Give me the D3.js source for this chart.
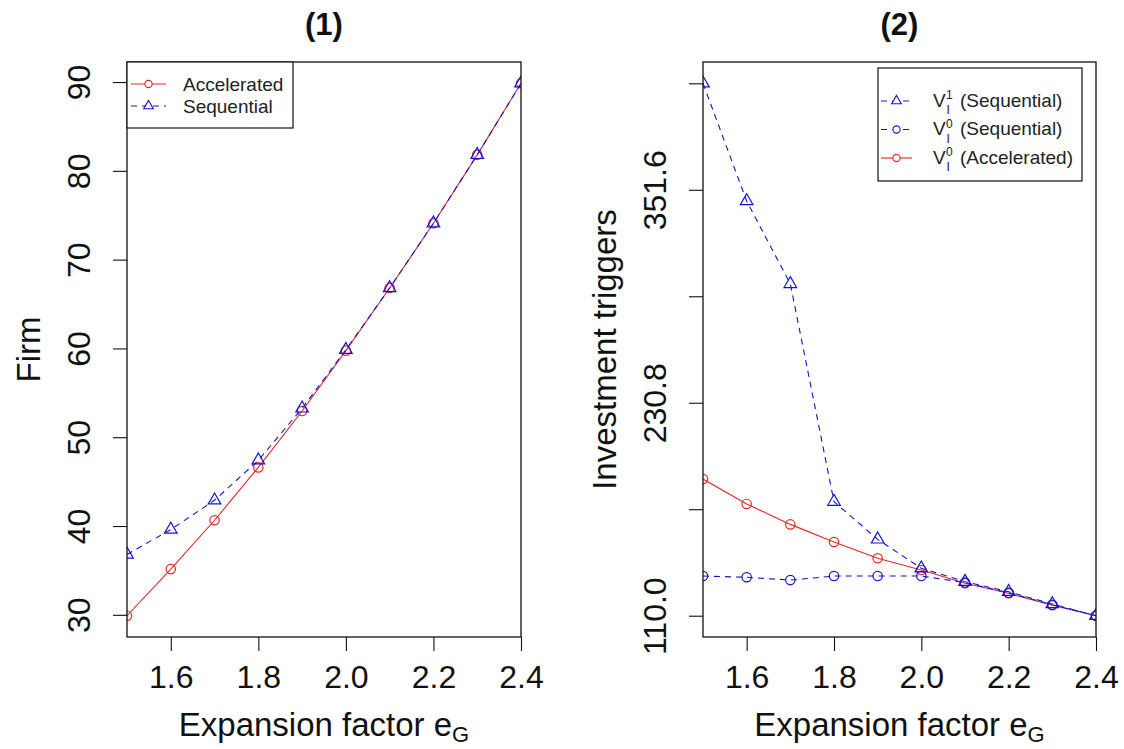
<!DOCTYPE html>
<html>
<head>
<meta charset="utf-8">
<script src="https://cdn.jsdelivr.net/npm/d3@7"></script>
<style>
  html, body { margin: 0; padding: 0; background: #fff; }
  svg { display: block; font-family: "Liberation Sans", Arial, sans-serif; }
</style>
</head>
<body>
<svg id="chart" width="1124" height="749"></svg>
<script>
// ---------- data ----------
const expansionFactor = [1.5, 1.6, 1.7, 1.8, 1.9, 2.0, 2.1, 2.2, 2.3, 2.4];

// Panel (1): Firm value
const firmAccelerated = [29.9, 35.15, 40.65, 46.6, 52.95, 59.75, 66.8, 74.1, 81.8, 89.86];
const firmSequential  = [36.8, 39.6, 42.9, 47.4, 53.25, 59.85, 66.8, 74.1, 81.8, 89.86];

// Panel (2): Investment triggers
const trigV1Sequential  = [412.0, 345.2, 298.2, 174.7, 153.3, 136.9, 129.3, 123.6, 116.6, 110.0];
const trigV0Sequential  = [132.5, 131.8, 130.2, 132.5, 132.5, 132.5, 128.8, 123.0, 116.2, 110.0];
const trigV0Accelerated = [187.5, 173.4, 161.8, 151.8, 142.6, 135.9, 128.4, 122.7, 115.9, 110.0];

const xTickValues = [1.6, 1.8, 2.0, 2.2, 2.4];
const xTickLabels = ["1.6", "1.8", "2.0", "2.2", "2.4"];
const firmTickValues = [30, 40, 50, 60, 70, 80, 90];
const firmTickLabels = ["30", "40", "50", "60", "70", "80", "90"];
const trigTickValues = [110.0, 170.4, 230.8, 291.2, 351.6, 412.0];
const trigTickLabels = ["110.0", "", "230.8", "", "351.6", ""];

// ---------- helpers ----------
const svg = d3.select("#chart");
const RED = "#e02828";
const BLUE = "#1414cc";
const DASH = "6,5";
const CR = 4.7;                      // circle radius
const triPath = "M0,-7.3L6.3,3.65L-6.3,3.65Z";

function padDomain(arrays) {
  const all = arrays.flat();
  const mn = d3.min(all), mx = d3.max(all);
  const p = (mx - mn) * 0.04;
  return [mn - p, mx + p];
}

const plotTop = 62, plotBottom = 637;

function panel(cfg) {
  const x = d3.scaleLinear().domain([1.5, 2.4]).range([cfg.left, cfg.right]);
  const y = d3.scaleLinear().domain(padDomain(cfg.series.map(s => s.values))).range([plotBottom, plotTop]);
  const g = svg.append("g");

  const clipId = "clip" + cfg.id;
  svg.append("clipPath").attr("id", clipId)
    .append("rect").attr("x", cfg.left).attr("y", plotTop)
    .attr("width", cfg.right - cfg.left).attr("height", plotBottom - plotTop);

  // x axis
  const xa = g.append("g").attr("transform", `translate(0,${plotBottom})`)
    .call(d3.axisBottom(x).tickValues(xTickValues)
      .tickFormat((d, i) => xTickLabels[i]).tickSize(14).tickPadding(14));
  xa.select(".domain").remove();
  xa.selectAll("line").attr("stroke", "#111").attr("stroke-width", 1.1);
  xa.selectAll("text").attr("font-size", 32).attr("fill", "#111")
    .attr("font-family", "Liberation Sans, Arial, sans-serif");

  // y axis
  const ya = g.append("g").attr("transform", `translate(${cfg.left},0)`)
    .call(d3.axisLeft(y).tickValues(cfg.yTicks)
      .tickFormat((d, i) => cfg.yLabels[i]).tickSize(14));
  ya.select(".domain").remove();
  ya.selectAll("line").attr("stroke", "#111").attr("stroke-width", 1.1);
  ya.selectAll("text")
    .attr("x", null).attr("dy", null)
    .attr("transform", "translate(-37,0) rotate(-90)")
    .attr("text-anchor", "middle")
    .attr("font-size", 32).attr("fill", "#111")
    .attr("font-family", "Liberation Sans, Arial, sans-serif");

  // series
  const plot = g.append("g").attr("clip-path", `url(#${clipId})`);
  cfg.series.forEach(s => {
    const pts = expansionFactor.map((xv, i) => [xv, s.values[i]]);
    plot.append("path")
      .attr("d", d3.line().x(d => x(d[0])).y(d => y(d[1]))(pts))
      .attr("fill", "none").attr("stroke", s.color).attr("stroke-width", 1.1)
      .attr("stroke-dasharray", s.dashed ? DASH : null);
    if (s.marker === "circle") {
      plot.selectAll(null).data(pts).enter().append("circle")
        .attr("cx", d => x(d[0])).attr("cy", d => y(d[1])).attr("r", CR)
        .attr("fill", "none").attr("stroke", s.color).attr("stroke-width", 1.2);
    } else {
      plot.selectAll(null).data(pts).enter().append("path")
        .attr("d", triPath)
        .attr("transform", d => `translate(${x(d[0])},${y(d[1])})`)
        .attr("fill", "none").attr("stroke", s.color).attr("stroke-width", 1.2);
    }
  });

  // box
  g.append("rect").attr("x", cfg.left).attr("y", plotTop)
    .attr("width", cfg.right - cfg.left).attr("height", plotBottom - plotTop)
    .attr("fill", "none").attr("stroke", "#111").attr("stroke-width", 1.3);

  const cx = (cfg.left + cfg.right) / 2;
  // title
  g.append("text").attr("x", cx).attr("y", 35).attr("text-anchor", "middle")
    .attr("font-size", 31).attr("font-weight", "bold").attr("fill", "#111").text(cfg.title);

  // x axis title
  const xt = g.append("text").attr("x", cx).attr("y", 736).attr("text-anchor", "middle")
    .attr("font-size", 33).attr("fill", "#111");
  xt.append("tspan").text("Expansion factor e");
  xt.append("tspan").attr("font-size", 22).attr("dy", 6).text("G");

  // y axis title
  g.append("text").attr("transform", `translate(${cfg.left - 87},${(plotTop + plotBottom) / 2}) rotate(-90)`)
    .attr("text-anchor", "middle").attr("font-size", 33).attr("fill", "#111").text(cfg.yTitle);

  return { x, y, g };
}

function legendSymbol(g, x0, x1, y, s) {
  g.append("line").attr("x1", x0).attr("x2", x1).attr("y1", y).attr("y2", y)
    .attr("stroke", s.color).attr("stroke-width", 1.1)
    .attr("stroke-dasharray", s.dashed ? DASH : null);
  const mx = (x0 + x1) / 2;
  if (s.marker === "circle") {
    g.append("circle").attr("cx", mx).attr("cy", y).attr("r", 3.6)
      .attr("fill", "#fff").attr("stroke", s.color).attr("stroke-width", 1.1);
  } else {
    g.append("path").attr("d", "M0,-5.6L4.8,2.8L-4.8,2.8Z")
      .attr("transform", `translate(${mx},${y})`)
      .attr("fill", "#fff").attr("stroke", s.color).attr("stroke-width", 1.1);
  }
}

// ---------- panel 1 ----------
const s1 = [
  { name: "Accelerated", values: firmAccelerated, color: RED, dashed: false, marker: "circle" },
  { name: "Sequential", values: firmSequential, color: BLUE, dashed: true, marker: "triangle" }
];
const p1 = panel({ id: 1, left: 127, right: 521, series: s1, yTicks: firmTickValues,
  yLabels: firmTickLabels, title: "(1)", yTitle: "Firm" });

const lg1 = svg.append("g");
lg1.append("rect").attr("x", 127).attr("y", 62).attr("width", 166).attr("height", 66)
  .attr("fill", "#fff").attr("stroke", "#111").attr("stroke-width", 1.2);
s1.forEach((s, i) => {
  const ry = 84 + i * 22;
  legendSymbol(lg1, 131, 166, ry, s);
  lg1.append("text").attr("x", 183).attr("y", ry + 7).attr("font-size", 19)
    .attr("fill", "#222").text(s.name);
});

// ---------- panel 2 ----------
const s2 = [
  { values: trigV0Accelerated, color: RED, dashed: false, marker: "circle", sup: "0", label: "(Accelerated)" },
  { values: trigV0Sequential, color: BLUE, dashed: true, marker: "circle", sup: "0", label: "(Sequential)" },
  { values: trigV1Sequential, color: BLUE, dashed: true, marker: "triangle", sup: "1", label: "(Sequential)" }
];
const p2 = panel({ id: 2, left: 703, right: 1096, series: s2, yTicks: trigTickValues,
  yLabels: trigTickLabels, title: "(2)", yTitle: "Investment triggers" });

const lg2 = svg.append("g");
lg2.append("rect").attr("x", 878).attr("y", 68).attr("width", 204).attr("height", 113)
  .attr("fill", "#fff").attr("stroke", "#111").attr("stroke-width", 1.2);
const legendOrder = [s2[2], s2[1], s2[0]];
const baselines = [106.5, 135, 163.5];
legendOrder.forEach((s, i) => {
  const b = baselines[i];
  legendSymbol(lg2, 881, 912, b - 5.5, s);
  lg2.append("text").attr("x", 933).attr("y", b).attr("font-size", 19).attr("fill", "#222").text("V");
  lg2.append("text").attr("x", 946).attr("y", b - 7.5).attr("font-size", 12).attr("fill", "#222").text(s.sup);
  lg2.append("text").attr("x", 946.5).attr("y", b + 7.5).attr("font-size", 12).attr("fill", "#222").text("I");
  lg2.append("text").attr("x", 960).attr("y", b).attr("font-size", 19).attr("fill", "#222").text(s.label);
});
</script>
</body>
</html>
